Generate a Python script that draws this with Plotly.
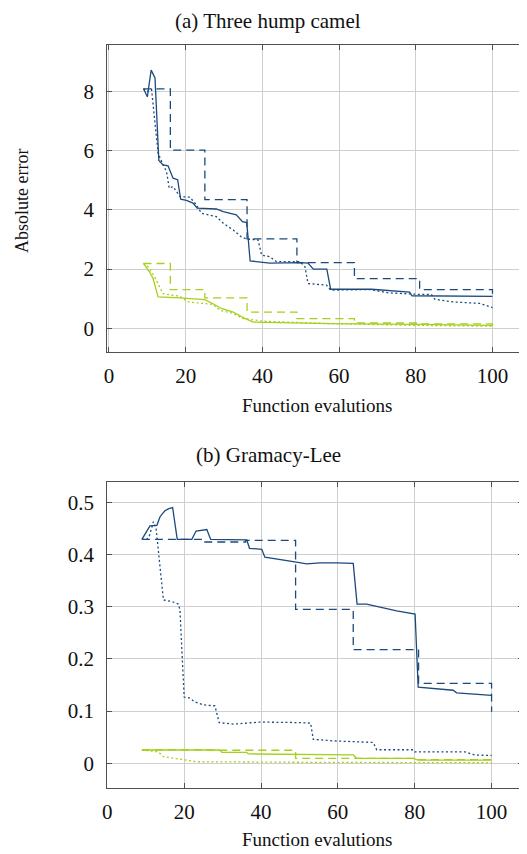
import plotly.graph_objects as go

# ---------------- data: (a) Three hump camel ----------------
a_blue_solid_x = [9, 10, 11, 12, 13, 14.1, 15.4, 16.7, 17.9, 18.7, 20.2, 21.9, 23, 28, 29.8, 33.2, 34.8, 35.9, 36.3, 36.8,
                  41.9, 48, 50, 51.9, 53.3, 56.8, 57.8, 68.5, 78.4, 79, 100]
a_blue_solid_y = [8.09, 7.82, 8.72, 8.46, 5.67, 5.52, 5.49, 5.07, 5.02, 4.36, 4.32, 4.23, 4.06, 4.03, 3.94, 3.83, 3.6, 3.57, 3.04, 2.28,
                  2.2, 2.22, 2.22, 2.2, 2.0, 2.0, 1.32, 1.32, 1.22, 1.1, 1.08]
a_blue_dot_x = [9, 10, 11.1, 11.9, 12.8, 14.1, 15, 15.7, 16.7, 18.5, 21.1, 22.8, 24.1, 28, 29.8, 32.4, 34.5, 35.9, 38.9, 39.8,
                41.9, 43.7, 49.8, 51.1, 51.9, 56.7, 57.8, 68, 72.8, 80.2, 84.1, 85, 89.7, 96.7, 100]
a_blue_dot_y = [8.09, 8.0, 8.07, 6.94, 5.92, 5.52, 5.3, 4.73, 4.79, 4.45, 4.43, 4.17, 3.89, 3.77, 3.55, 3.32, 3.09, 3.02, 2.98, 2.47,
                2.42, 2.25, 2.25, 2.08, 1.51, 1.46, 1.29, 1.31, 1.2, 1.15, 1.14, 0.98, 0.89, 0.84, 0.7]
a_step_x = [9, 16, 25, 36, 49, 64, 81, 100]
a_blue_dash_y = [8.09, 6.02, 4.35, 3.02, 2.22, 1.68, 1.31, 1.08]
a_green_dash_y = [2.19, 1.31, 1.03, 0.55, 0.33, 0.18, 0.15, 0.10]
a_green_solid_x = [9, 10.6, 11.5, 12.8, 18.5, 25, 27.1, 29.3, 32.4, 35, 37.6, 57.6, 80, 100]
a_green_solid_y = [2.19, 1.9, 1.68, 1.06, 1.03, 0.97, 0.83, 0.67, 0.55, 0.36, 0.21, 0.16, 0.13, 0.1]
a_green_dot_x = [9, 10.2, 11.9, 12.8, 14.1, 18.5, 20.6, 27.1, 28.9, 32.4, 35, 40.2, 57.6, 80, 100]
a_green_dot_y = [2.19, 2.08, 1.74, 1.51, 1.17, 1.08, 0.89, 0.81, 0.61, 0.5, 0.33, 0.24, 0.16, 0.1, 0.07]

# ---------------- data: (b) Gramacy-Lee ----------------
b_blue_solid_x = [9, 11.1, 12.9, 13.7, 14.3, 15, 16, 17, 18.2, 22, 23.1, 25.9, 26.9, 36.3, 37, 40.2, 41, 44, 48.8, 51.9, 55.3,
                  59.7, 64, 65, 67.5, 75.3, 80.1, 80.9, 90, 90.9, 100]
b_blue_solid_y = [0.429, 0.455, 0.456, 0.472, 0.478, 0.484, 0.488, 0.49, 0.429, 0.429, 0.445, 0.448, 0.429, 0.428, 0.412, 0.41, 0.395, 0.391, 0.386, 0.382, 0.384,
                  0.384, 0.383, 0.305, 0.305, 0.292, 0.286, 0.146, 0.140, 0.135, 0.13]
b_blue_dot_x = [9, 10.3, 11, 12, 12.7, 13.6, 14.6, 16.8, 18.5, 18.9, 19.6, 20, 21.5, 22.7, 25, 28, 28.5, 29.1, 32.8, 39.7, 50.1,
                52.9, 53.6, 58.8, 69.2, 70.1, 79.6, 80, 93, 95.6, 100]
b_blue_dot_y = [0.429, 0.429, 0.437, 0.463, 0.45, 0.383, 0.313, 0.31, 0.305, 0.294, 0.179, 0.127, 0.125, 0.118, 0.112, 0.11, 0.096, 0.078, 0.075, 0.079, 0.078,
                0.077, 0.046, 0.043, 0.04, 0.026, 0.026, 0.022, 0.022, 0.016, 0.015]
b_step_x = [9, 16, 25, 36, 49, 64, 81, 100]
b_blue_dash_y = [0.429, 0.429, 0.424, 0.427, 0.295, 0.218, 0.153, 0.099]
b_green_dash_y = [0.026, 0.026, 0.025, 0.025, 0.0095, 0.0095, 0.007, 0.006]
b_green_solid_x = [9, 29.3, 29.8, 36.3, 36.7, 64, 64.9, 79.6, 80.9, 100]
b_green_solid_y = [0.0255, 0.0255, 0.021, 0.021, 0.018, 0.016, 0.0096, 0.0096, 0.0063, 0.006]
b_green_dot_x = [9, 13.3, 14.6, 19.8, 23.3, 50, 100]
b_green_dot_y = [0.0255, 0.022, 0.0127, 0.0063, 0.003, 0.002, 0.001]

x_ticks = [0, 20, 40, 60, 80, 100]
a_y_ticks = [0, 2, 4, 6, 8]
b_y_ticks = [0, 0.1, 0.2, 0.3, 0.4, 0.5]
b_y_labels = ["0", "0.1", "0.2", "0.3", "0.4", "0.5"]

BLUE = "#1b4a7c"
GREEN = "#a5d01c"
OFF = 8            # default page body margin
W = 527 - OFF
H = 854 - OFF
FONT = "'Liberation Serif', 'DejaVu Serif', serif"
DOT = "2px,2.5px"
DASH = "8px,5px"


def px2paper_x(px):
    return (px - OFF) / W


def px2paper_y(py):
    return 1 - (py - OFF) / H


fig = go.Figure()


def add(x, y, color, dash, xa, ya, shape="linear"):
    fig.add_trace(go.Scatter(x=x, y=y, mode="lines", xaxis=xa, yaxis=ya,
                             line=dict(color=color, width=1.3, dash=dash, shape=shape),
                             showlegend=False, hoverinfo="skip"))


# top
add(a_green_dot_x, a_green_dot_y, GREEN, DOT, "x", "y")
add(a_step_x, a_green_dash_y, GREEN, DASH, "x", "y", "hv")
add(a_green_solid_x, a_green_solid_y, GREEN, "solid", "x", "y")
add(a_blue_dot_x, a_blue_dot_y, BLUE, DOT, "x", "y")
add(a_step_x, a_blue_dash_y, BLUE, DASH, "x", "y", "hv")
add(a_blue_solid_x, a_blue_solid_y, BLUE, "solid", "x", "y")
# bottom
add(b_green_dot_x, b_green_dot_y, GREEN, DOT, "x2", "y2")
add(b_step_x, b_green_dash_y, GREEN, DASH, "x2", "y2", "hv")
add(b_green_solid_x, b_green_solid_y, GREEN, "solid", "x2", "y2")
add(b_blue_dot_x, b_blue_dot_y, BLUE, DOT, "x2", "y2")
add(b_step_x, b_blue_dash_y, BLUE, DASH, "x2", "y2", "hv")
add(b_blue_solid_x, b_blue_solid_y, BLUE, "solid", "x2", "y2")

FRAME = "#505050"
GRID = "#cfcfcf"
tickfont = dict(family=FONT, size=21, color="#111")

common_x = dict(showline=True, linecolor=FRAME, linewidth=1.2, mirror="ticks", ticks="inside", ticklen=5,
                tickcolor=FRAME, showgrid=True, gridcolor=GRID, gridwidth=1, zeroline=False, automargin=False,
                tickvals=x_ticks, tickfont=tickfont, ticklabelstandoff=5)
common_y = dict(showline=True, linecolor=FRAME, linewidth=1.2, ticks="inside", ticklen=5, automargin=False,
                tickcolor=FRAME, showgrid=True, gridcolor=GRID, gridwidth=1, zeroline=False,
                tickfont=tickfont, ticklabelstandoff=8)

fig.update_layout(
    width=W, height=H, margin=dict(l=0, r=0, t=0, b=0, pad=0), autosize=False,
    paper_bgcolor="white", plot_bgcolor="white",
    xaxis=dict(common_x, domain=[px2paper_x(107.3), 1.0], range=[-0.44, 109.0], anchor="y"),
    yaxis=dict(common_y, domain=[px2paper_y(351.7), px2paper_y(45)], range=[-0.79, 9.57],
               tickvals=a_y_ticks, anchor="x", mirror=False),
    xaxis2=dict(common_x, domain=[px2paper_x(107.3), px2paper_x(522.7)], range=[0, 108.1], anchor="y2"),
    yaxis2=dict(common_y, domain=[px2paper_y(788), px2paper_y(482)], range=[-0.0473, 0.539],
                tickvals=b_y_ticks, ticktext=b_y_labels, anchor="x2", mirror="ticks"),
)

ann_font = dict(family=FONT, size=19, color="#111")
title_font = dict(family=FONT, size=21, color="#111")
annotations = [
    dict(text="(a) Three hump camel", x=px2paper_x(268), y=px2paper_y(20.5), font=title_font),
    dict(text="(b) Gramacy-Lee", x=px2paper_x(268), y=px2paper_y(455), font=title_font),
    dict(text="Function evalutions", x=px2paper_x(317), y=px2paper_y(405), font=ann_font),
    dict(text="Function evalutions", x=px2paper_x(317), y=px2paper_y(839), font=ann_font),
    dict(text="Absolute error", x=px2paper_x(22), y=px2paper_y(201), font=dict(family=FONT, size=18, color="#111"),
         textangle=-90),
]
for a in annotations:
    a.update(xref="paper", yref="paper", showarrow=False, xanchor="center", yanchor="middle")
fig.update_layout(annotations=annotations)

fig.write_html("out.html")
